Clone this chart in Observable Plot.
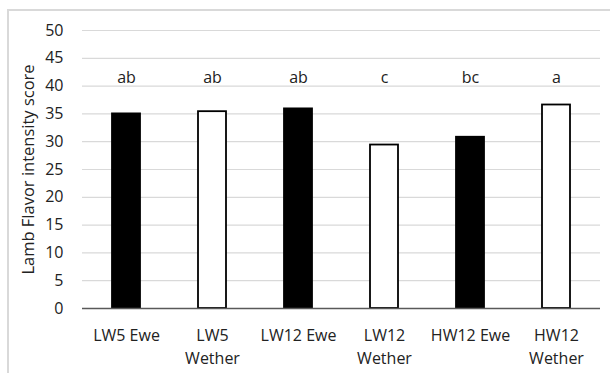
<!DOCTYPE html>
<html>
<head>
<meta charset="utf-8">
<script src="https://cdn.jsdelivr.net/npm/d3@7"></script>
<script src="https://cdn.jsdelivr.net/npm/@observablehq/plot@0.6"></script>
<style>
  html, body { margin: 0; padding: 0; background: #fff; }
  #wrap { position: relative; width: 610px; height: 373px; overflow: hidden; }
  #border { position: absolute; left: 7px; top: 9px; width: 700px; height: 500px; border: 2px solid #d9d9d9; box-sizing: border-box; }
  #chart { position: absolute; left: 0; top: 0; }
  svg { font-family: "Open Sans", sans-serif; }
</style>
</head>
<body>
<div id="wrap"><div id="border"></div><div id="chart"></div></div>
<script>
const categories = ["LW5 Ewe", "LW5 Wether", "LW12 Ewe", "LW12 Wether", "HW12 Ewe", "HW12 Wether"];
const tickLabels = ["LW5 Ewe", "LW5\nWether", "LW12 Ewe", "LW12\nWether", "HW12 Ewe", "HW12\nWether"];
const values = [35.0, 35.4, 35.9, 29.4, 30.8, 36.6];
const letters = ["ab", "ab", "ab", "c", "bc", "a"];
const sexes = ["Ewe", "Wether", "Ewe", "Wether", "Ewe", "Wether"];
const letterY = 41.5;

const data = categories.map((c, i) => ({cat: c, value: values[i], letter: letters[i], sex: sexes[i], label: tickLabels[i]}));

const chart = Plot.plot({
  width: 610,
  height: 373,
  marginLeft: 82,
  marginRight: 10,
  marginTop: 30,
  marginBottom: 65,
  style: {fontFamily: "Open Sans, sans-serif", background: "transparent"},
  x: {domain: categories, paddingInner: 0.675, paddingOuter: 0.3375, label: null},
  y: {domain: [0, 50], ticks: d3.range(0, 51, 5), label: null},
  color: {domain: ["Ewe", "Wether"], range: ["#000000", "#ffffff"]},
  marks: [
    Plot.gridY(d3.range(5, 51, 5), {stroke: "#d9d9d9", strokeOpacity: 1, strokeWidth: 1.2}),
    Plot.axisY(d3.range(0, 51, 5), {tickSize: 0, tickPadding: 19, fontSize: 16, fill: "#222", label: null}),
    Plot.axisX({tickSize: 0, tickPadding: 16, fontSize: 16, fill: "#222", lineHeight: 1.45,
      tickFormat: (d) => tickLabels[categories.indexOf(d)], label: null}),
    Plot.barY(data, {x: "cat", y: "value", fill: "sex", stroke: "#000", strokeWidth: 1.8}),
    Plot.ruleY([0], {stroke: "#595959", strokeWidth: 1.5}),
    Plot.text(data, {x: "cat", y: () => letterY, text: "letter", fontSize: 16, fill: "#222"}),
    Plot.text(["Lamb Flavor intensity score"], {frameAnchor: "left", textAnchor: "middle", dx: -54, rotate: -90, fontSize: 16.5, fill: "#222", text: d => d})
  ]
});
document.getElementById("chart").appendChild(chart);
</script>
</body>
</html>
